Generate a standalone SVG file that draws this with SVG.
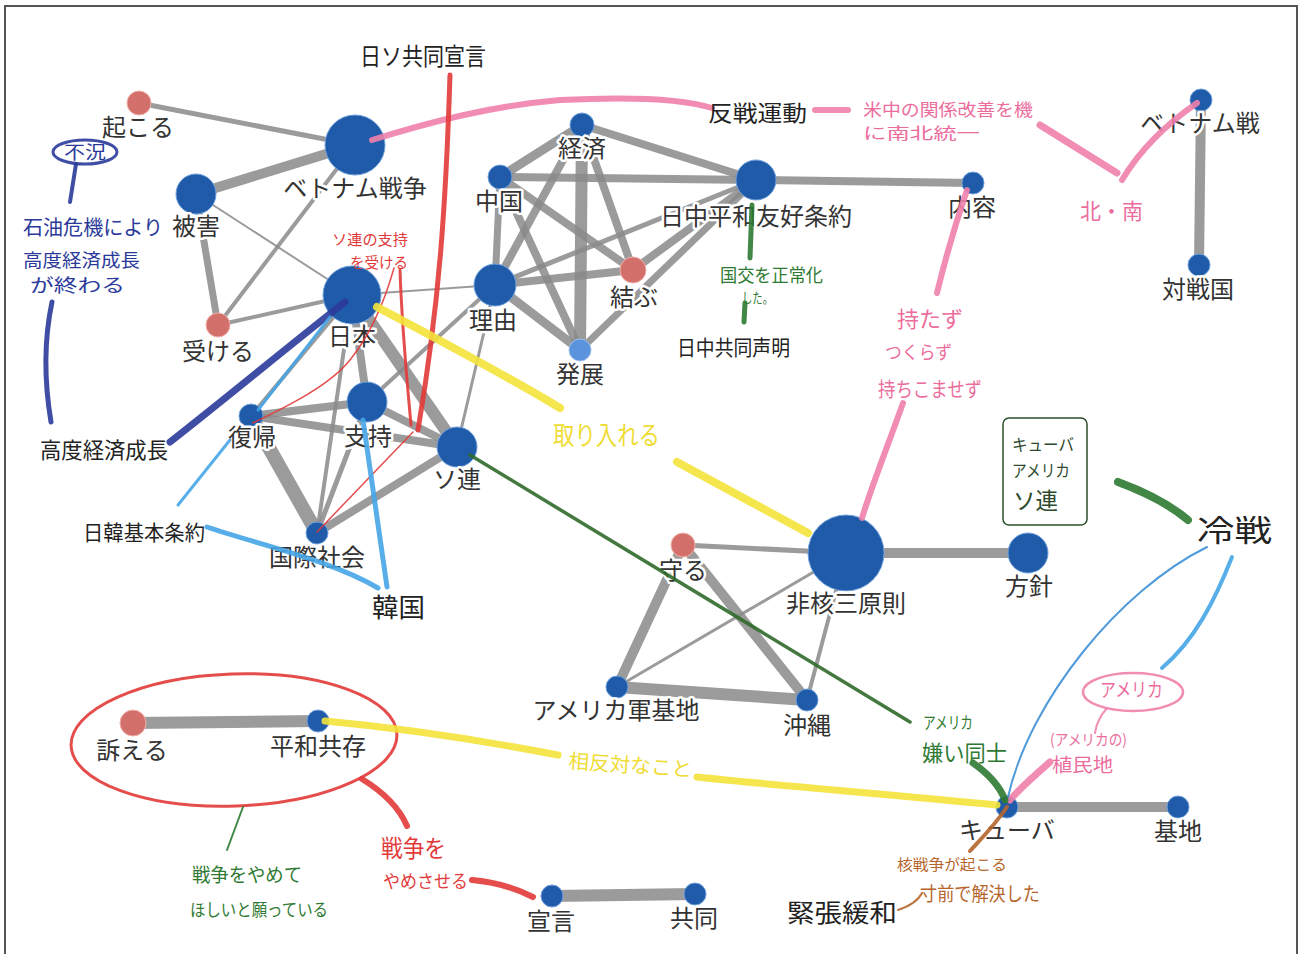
<svg xmlns="http://www.w3.org/2000/svg" width="1301" height="954" viewBox="0 0 1301 954">
<style>
.e{stroke:#8a8a8a;stroke-opacity:.85;stroke-linecap:round;fill:none}
.nb{fill:#1f5ba8;stroke:#6fa0dc;stroke-width:1}
.nr{fill:#d4706b;stroke:#f0b0aa;stroke-width:1}
.nl{fill:#5b93dc;stroke:#9cc0ee;stroke-width:1}
.lbl{font-family:"Noto Sans CJK JP","Noto Sans",sans-serif;font-size:24px;fill:#333;stroke:#fff;stroke-width:5;stroke-linejoin:round;paint-order:stroke;text-anchor:middle}
.h{font-family:"Noto Sans CJK JP","Noto Sans",sans-serif}
.a{fill:none;stroke-linecap:round;stroke-linejoin:round;stroke-opacity:.9}
.pink{stroke:#f07fab}
.red{stroke:#e23a3a}
.navy{stroke:#2b3a9a}
.yel{stroke:#f4e33a}
.lb{stroke:#45a5e6}
.grn{stroke:#2f7a33}
.brn{stroke:#b5652b}
</style>
<rect x="0" y="0" width="1301" height="954" fill="#fff"/>
<rect x="5" y="6" width="1292" height="960" fill="#fff" stroke="#555" stroke-width="2"/>

<g id="connectors">
<line class="e" x1="139" y1="103" x2="355" y2="145" stroke-width="5"/>
<line class="e" x1="196" y1="194" x2="355" y2="145" stroke-width="10"/>
<line class="e" x1="196" y1="194" x2="352" y2="295" stroke-width="2"/>
<line class="e" x1="196" y1="194" x2="218" y2="325" stroke-width="7"/>
<line class="e" x1="218" y1="325" x2="355" y2="145" stroke-width="4"/>
<line class="e" x1="218" y1="325" x2="352" y2="295" stroke-width="4"/>
<line class="e" x1="352" y1="295" x2="495" y2="285" stroke-width="2"/>
<line class="e" x1="352" y1="295" x2="367" y2="402" stroke-width="8"/>
<line class="e" x1="352" y1="295" x2="457" y2="447" stroke-width="12"/>
<line class="e" x1="352" y1="295" x2="317" y2="533" stroke-width="4"/>
<line class="e" x1="352" y1="295" x2="251" y2="416" stroke-width="4"/>
<line class="e" x1="251" y1="416" x2="367" y2="402" stroke-width="8"/>
<line class="e" x1="251" y1="416" x2="457" y2="447" stroke-width="8"/>
<line class="e" x1="251" y1="416" x2="317" y2="533" stroke-width="14"/>
<line class="e" x1="367" y1="402" x2="317" y2="533" stroke-width="5"/>
<line class="e" x1="367" y1="402" x2="457" y2="447" stroke-width="8"/>
<line class="e" x1="367" y1="402" x2="495" y2="285" stroke-width="4"/>
<line class="e" x1="457" y1="447" x2="495" y2="285" stroke-width="3"/>
<line class="e" x1="457" y1="447" x2="317" y2="533" stroke-width="8"/>
<line class="e" x1="495" y1="285" x2="500" y2="177" stroke-width="7"/>
<line class="e" x1="495" y1="285" x2="582" y2="125" stroke-width="8"/>
<line class="e" x1="495" y1="285" x2="633" y2="270" stroke-width="8"/>
<line class="e" x1="495" y1="285" x2="756" y2="180" stroke-width="5"/>
<line class="e" x1="495" y1="285" x2="580" y2="350" stroke-width="9"/>
<line class="e" x1="500" y1="177" x2="582" y2="125" stroke-width="9"/>
<line class="e" x1="500" y1="177" x2="756" y2="180" stroke-width="8"/>
<line class="e" x1="500" y1="177" x2="633" y2="270" stroke-width="8"/>
<line class="e" x1="500" y1="177" x2="580" y2="350" stroke-width="8"/>
<line class="e" x1="582" y1="125" x2="756" y2="180" stroke-width="8"/>
<line class="e" x1="582" y1="125" x2="580" y2="350" stroke-width="12"/>
<line class="e" x1="582" y1="125" x2="633" y2="270" stroke-width="8"/>
<line class="e" x1="633" y1="270" x2="756" y2="180" stroke-width="8"/>
<line class="e" x1="580" y1="350" x2="756" y2="180" stroke-width="7"/>
<line class="e" x1="756" y1="180" x2="973" y2="183" stroke-width="8"/>
<line class="e" x1="1201" y1="100" x2="1199" y2="265" stroke-width="10"/>
<line class="e" x1="846" y1="553" x2="1028" y2="553" stroke-width="10"/>
<line class="e" x1="846" y1="553" x2="683" y2="545" stroke-width="5"/>
<line class="e" x1="846" y1="553" x2="617" y2="687" stroke-width="3"/>
<line class="e" x1="846" y1="553" x2="807" y2="700" stroke-width="4"/>
<line class="e" x1="683" y1="545" x2="617" y2="687" stroke-width="10"/>
<line class="e" x1="683" y1="545" x2="807" y2="700" stroke-width="10"/>
<line class="e" x1="617" y1="687" x2="807" y2="700" stroke-width="12"/>
<line class="e" x1="1007" y1="807" x2="1178" y2="807" stroke-width="10"/>
<line class="e" x1="133" y1="723" x2="318" y2="721" stroke-width="12"/>
<line class="e" x1="552" y1="896" x2="695" y2="894" stroke-width="12"/>
</g>

<g id="node-okoru"><circle class="nr" cx="139" cy="103" r="12"/><text class="lbl" x="138" y="136">起こる</text></g>
<g id="node-vietnam-war"><circle class="nb" cx="355" cy="145" r="30"/><text class="lbl" x="355" y="197">ベトナム戦争</text></g>
<g id="node-higai"><circle class="nb" cx="196" cy="194" r="20"/><text class="lbl" x="196" y="235">被害</text></g>
<g id="node-nihon"><circle class="nb" cx="352" cy="295" r="29"/><text class="lbl" x="352" y="345">日本</text></g>
<g id="node-ukeru"><circle class="nr" cx="218" cy="325" r="12"/><text class="lbl" x="218" y="360">受ける</text></g>
<g id="node-keizai"><circle class="nb" cx="582" cy="125" r="12"/><text class="lbl" x="582" y="157">経済</text></g>
<g id="node-chugoku"><circle class="nb" cx="500" cy="177" r="12"/><text class="lbl" x="499" y="210">中国</text></g>
<g id="node-nicchu"><circle class="nb" cx="756" cy="180" r="20"/><text class="lbl" x="756" y="225">日中平和友好条約</text></g>
<g id="node-musubu"><circle class="nr" cx="633" cy="270" r="13"/><text class="lbl" x="634" y="306">結ぶ</text></g>
<g id="node-riyu"><circle class="nb" cx="495" cy="285" r="21"/><text class="lbl" x="493" y="329">理由</text></g>
<g id="node-hatten"><circle class="nl" cx="580" cy="350" r="11"/><text class="lbl" x="580" y="383">発展</text></g>
<g id="node-naiyo"><circle class="nb" cx="973" cy="183" r="11"/><text class="lbl" x="972" y="216">内容</text></g>
<g id="node-vietnam-sen"><circle class="nb" cx="1201" cy="100" r="11"/><text class="lbl" x="1200" y="132">ベトナム戦</text></g>
<g id="node-taisenkoku"><circle class="nb" cx="1199" cy="265" r="11"/><text class="lbl" x="1198" y="298">対戦国</text></g>
<g id="node-fukki"><circle class="nb" cx="251" cy="416" r="12"/><text class="lbl" x="252" y="446">復帰</text></g>
<g id="node-shiji"><circle class="nb" cx="367" cy="402" r="20"/><text class="lbl" x="368" y="445">支持</text></g>
<g id="node-soren"><circle class="nb" cx="457" cy="447" r="20"/><text class="lbl" x="457" y="488">ソ連</text></g>
<g id="node-kokusai"><circle class="nb" cx="317" cy="533" r="11"/><text class="lbl" x="317" y="566">国際社会</text></g>
<g id="node-hikaku"><circle class="nb" cx="846" cy="553" r="38"/><text class="lbl" x="846" y="612">非核三原則</text></g>
<g id="node-hoshin"><circle class="nb" cx="1028" cy="553" r="20"/><text class="lbl" x="1029" y="595">方針</text></g>
<g id="node-mamoru"><circle class="nr" cx="683" cy="545" r="12"/><text class="lbl" x="683" y="579">守る</text></g>
<g id="node-beigun"><circle class="nb" cx="617" cy="687" r="11"/><text class="lbl" x="616" y="719">アメリカ軍基地</text></g>
<g id="node-okinawa"><circle class="nb" cx="807" cy="700" r="11"/><text class="lbl" x="807" y="734">沖縄</text></g>
<g id="node-cuba"><circle class="nb" cx="1007" cy="807" r="11"/><text class="lbl" x="1007" y="839">キューバ</text></g>
<g id="node-kichi"><circle class="nb" cx="1178" cy="807" r="11"/><text class="lbl" x="1178" y="840">基地</text></g>
<g id="node-uttaeru"><circle class="nr" cx="133" cy="723" r="13"/><text class="lbl" x="132" y="759">訴える</text></g>
<g id="node-heiwa"><circle class="nb" cx="318" cy="721" r="11"/><text class="lbl" x="318" y="755">平和共存</text></g>
<g id="node-sengen"><circle class="nb" cx="552" cy="896" r="11"/><text class="lbl" x="551" y="930">宣言</text></g>
<g id="node-kyodo"><circle class="nb" cx="695" cy="894" r="11"/><text class="lbl" x="694" y="927">共同</text></g>

<g id="annotation-lines">
<path class="a pink" d="M372,140 C430,122 490,106 560,100 C620,97 680,98 712,108" stroke-width="6"/>
<path class="a pink" d="M815,110 L848,110" stroke-width="6"/>
<path class="a pink" d="M1040,125 L1117,173" stroke-width="7"/>
<path class="a pink" d="M1122,180 C1140,150 1165,125 1197,103" stroke-width="6"/>
<path class="a pink" d="M967,190 C955,225 945,260 937,293" stroke-width="6"/>
<path class="a pink" d="M903,403 C890,440 872,485 862,518" stroke-width="6"/>
<path class="a pink" d="M1050,762 C1035,775 1020,788 1010,800" stroke-width="7"/>
<path class="a pink" d="M1107,708 C1100,716 1096,726 1095,733" stroke-width="2"/>
<ellipse class="a pink" cx="1133" cy="692" rx="50" ry="19" stroke-width="2.5"/>

<path class="a red" d="M450,75 C446,200 440,300 418,430" stroke-width="5"/>
<path class="a red" d="M400,270 C402,330 407,380 411,425" stroke-width="3"/>
<path class="a red" d="M253,423 C290,405 330,385 350,360 C370,335 385,300 394,268" stroke-width="1.5"/>
<path class="a red" d="M317,532 L413,432" stroke-width="1.5"/>
<ellipse class="a red" cx="234" cy="740" rx="163" ry="66" stroke-width="3" transform="rotate(-2 234 740)"/>
<path class="a red" d="M362,779 C380,790 398,805 407,826" stroke-width="6"/>
<path class="a red" d="M472,880 C495,882 515,888 533,897" stroke-width="6"/>

<ellipse class="a navy" cx="85" cy="152" rx="32" ry="12" stroke-width="3"/>
<path class="a navy" d="M76,164 L70,202" stroke-width="4"/>
<path class="a navy" d="M52,302 C44,340 44,380 51,422" stroke-width="5"/>
<path class="a navy" d="M170,442 C230,395 290,345 345,302" stroke-width="7"/>

<path class="a yel" d="M377,307 C430,335 500,372 560,408" stroke-width="8"/>
<path class="a yel" d="M677,462 L808,533" stroke-width="8"/>
<path class="a yel" d="M325,721 C400,728 480,740 558,755" stroke-width="7"/>
<path class="a yel" d="M697,777 C780,786 900,795 997,805" stroke-width="7"/>

<path class="a lb" d="M330,317 L258,410" stroke-width="3"/>
<path class="a lb" d="M230,440 L178,505" stroke-width="3"/>
<path class="a lb" d="M207,527 C260,545 330,560 378,588" stroke-width="5"/>
<path class="a lb" d="M363,420 C372,480 380,540 387,587" stroke-width="5"/>
<path class="a lb" d="M1207,547 C1120,590 1030,700 1008,797" stroke-width="2" style="stroke:#3b8fd6"/>
<path class="a lb" d="M1232,557 C1215,600 1195,640 1162,668" stroke-width="4"/>

<path class="a grn" d="M752,205 L750,258" stroke-width="5"/>
<path class="a grn" d="M745,303 L744,322" stroke-width="5"/>
<path class="a grn" d="M470,455 L910,722" stroke-width="3.5" style="stroke:#2f6a2a"/>
<path class="a grn" d="M973,763 C990,775 1000,787 1005,800" stroke-width="7"/>
<path class="a grn" d="M1118,482 C1145,492 1168,503 1188,520" stroke-width="8"/>
<rect x="1003" y="418" width="84" height="107" rx="6" fill="none" stroke="#2d4f2d" stroke-width="1.5"/>
<path class="a grn" d="M243,807 L227,850" stroke-width="2"/>

<path class="a brn" d="M1007,807 C995,825 980,840 970,851" stroke-width="4"/>
<path class="a brn" d="M922,893 C918,901 910,906 898,910" stroke-width="2"/>
</g>

<g id="annotations">
<text class="h" x="360" y="65" font-size="24" fill="#222" textLength="126" lengthAdjust="spacingAndGlyphs">日ソ共同宣言</text>
<text class="h" x="64" y="159" font-size="18" fill="#2b3a9a" textLength="42" lengthAdjust="spacingAndGlyphs">不況</text>
<text class="h" x="23" y="235" font-size="20" fill="#2b3a9a" textLength="140" lengthAdjust="spacingAndGlyphs">石油危機により</text>
<text class="h" x="23" y="267" font-size="18" fill="#2b3a9a" textLength="117" lengthAdjust="spacingAndGlyphs">高度経済成長</text>
<text class="h" x="30" y="292" font-size="18" fill="#2b3a9a" textLength="95" lengthAdjust="spacingAndGlyphs">が終わる</text>
<text class="h" x="40" y="458" font-size="22" fill="#222" textLength="128" lengthAdjust="spacingAndGlyphs">高度経済成長</text>
<text class="h" x="332" y="245" font-size="15" fill="#e23a3a" textLength="76" lengthAdjust="spacingAndGlyphs">ソ連の支持</text>
<text class="h" x="350" y="268" font-size="15" fill="#e23a3a" textLength="58" lengthAdjust="spacingAndGlyphs">を受ける</text>
<text class="h" x="708" y="121" font-size="22" fill="#222" textLength="99" lengthAdjust="spacingAndGlyphs">反戦運動</text>
<text class="h" x="863" y="116" font-size="17" fill="#ec6d9d" textLength="170" lengthAdjust="spacingAndGlyphs">米中の関係改善を機</text>
<text class="h" x="863" y="139" font-size="16" fill="#ec6d9d" textLength="117" lengthAdjust="spacingAndGlyphs">に南北統一</text>
<text class="h" x="1080" y="219" font-size="22" fill="#ec6d9d" textLength="63" lengthAdjust="spacingAndGlyphs">北・南</text>
<text class="h" x="720" y="282" font-size="18" fill="#2f7a33" textLength="103" lengthAdjust="spacingAndGlyphs">国交を正常化</text>
<text class="h" x="742" y="303" font-size="14" fill="#2f7a33" textLength="31" lengthAdjust="spacingAndGlyphs">した。</text>
<text class="h" x="677" y="355" font-size="21" fill="#222" textLength="113" lengthAdjust="spacingAndGlyphs">日中共同声明</text>
<text class="h" x="897" y="327" font-size="22" fill="#ec6d9d" textLength="66" lengthAdjust="spacingAndGlyphs">持たず</text>
<text class="h" x="885" y="359" font-size="18" fill="#ec6d9d" textLength="67" lengthAdjust="spacingAndGlyphs">つくらず</text>
<text class="h" x="878" y="397" font-size="20" fill="#ec6d9d" textLength="104" lengthAdjust="spacingAndGlyphs">持ちこませず</text>
<text class="h" x="553" y="445" font-size="26" fill="#efdc35" textLength="107" lengthAdjust="spacingAndGlyphs">取り入れる</text>
<text class="h" x="83" y="540" font-size="21" fill="#222" textLength="122" lengthAdjust="spacingAndGlyphs">日韓基本条約</text>
<text class="h" x="372" y="617" font-size="26" fill="#222" textLength="53" lengthAdjust="spacingAndGlyphs">韓国</text>
<text class="h" x="1012" y="451" font-size="17" fill="#2d4a2d" textLength="62" lengthAdjust="spacingAndGlyphs">キューバ</text>
<text class="h" x="1012" y="477" font-size="17" fill="#2d4a2d" textLength="58" lengthAdjust="spacingAndGlyphs">アメリカ</text>
<text class="h" x="1013" y="509" font-size="23" fill="#2d4a2d" textLength="45" lengthAdjust="spacingAndGlyphs">ソ連</text>
<text class="h" x="1197" y="541" font-size="30" fill="#222" textLength="75" lengthAdjust="spacingAndGlyphs">冷戦</text>
<text class="h" x="1100" y="697" font-size="19" fill="#ec6d9d" textLength="63" lengthAdjust="spacingAndGlyphs">アメリカ</text>
<text class="h" x="1050" y="745" font-size="15" fill="#ec6d9d" textLength="77" lengthAdjust="spacingAndGlyphs">(アメリカの)</text>
<text class="h" x="1052" y="772" font-size="19" fill="#ec6d9d" textLength="61" lengthAdjust="spacingAndGlyphs">植民地</text>
<text class="h" x="923" y="729" font-size="17" fill="#2f7a33" textLength="50" lengthAdjust="spacingAndGlyphs">アメリカ</text>
<text class="h" x="922" y="761" font-size="22" fill="#2f7a33" textLength="85" lengthAdjust="spacingAndGlyphs">嫌い同士</text>
<text class="h" x="897" y="870" font-size="15" fill="#b5652b" textLength="110" lengthAdjust="spacingAndGlyphs">核戦争が起こる</text>
<text class="h" x="920" y="901" font-size="19" fill="#b5652b" textLength="120" lengthAdjust="spacingAndGlyphs">寸前で解決した</text>
<text class="h" x="787" y="922" font-size="25" fill="#222" textLength="110" lengthAdjust="spacingAndGlyphs">緊張緩和</text>
<text class="h" x="568" y="768" font-size="20" fill="#efdc35" textLength="124" lengthAdjust="spacingAndGlyphs" transform="rotate(4 568 768)">相反対なこと</text>
<text class="h" x="381" y="857" font-size="24" fill="#e23a3a" textLength="65" lengthAdjust="spacingAndGlyphs">戦争を</text>
<text class="h" x="383" y="888" font-size="18" fill="#e23a3a" textLength="85" lengthAdjust="spacingAndGlyphs">やめさせる</text>
<text class="h" x="192" y="882" font-size="19" fill="#2f7a33" textLength="110" lengthAdjust="spacingAndGlyphs">戦争をやめて</text>
<text class="h" x="190" y="916" font-size="17" fill="#2f7a33" textLength="138" lengthAdjust="spacingAndGlyphs">ほしいと願っている</text>
</g>
</svg>
